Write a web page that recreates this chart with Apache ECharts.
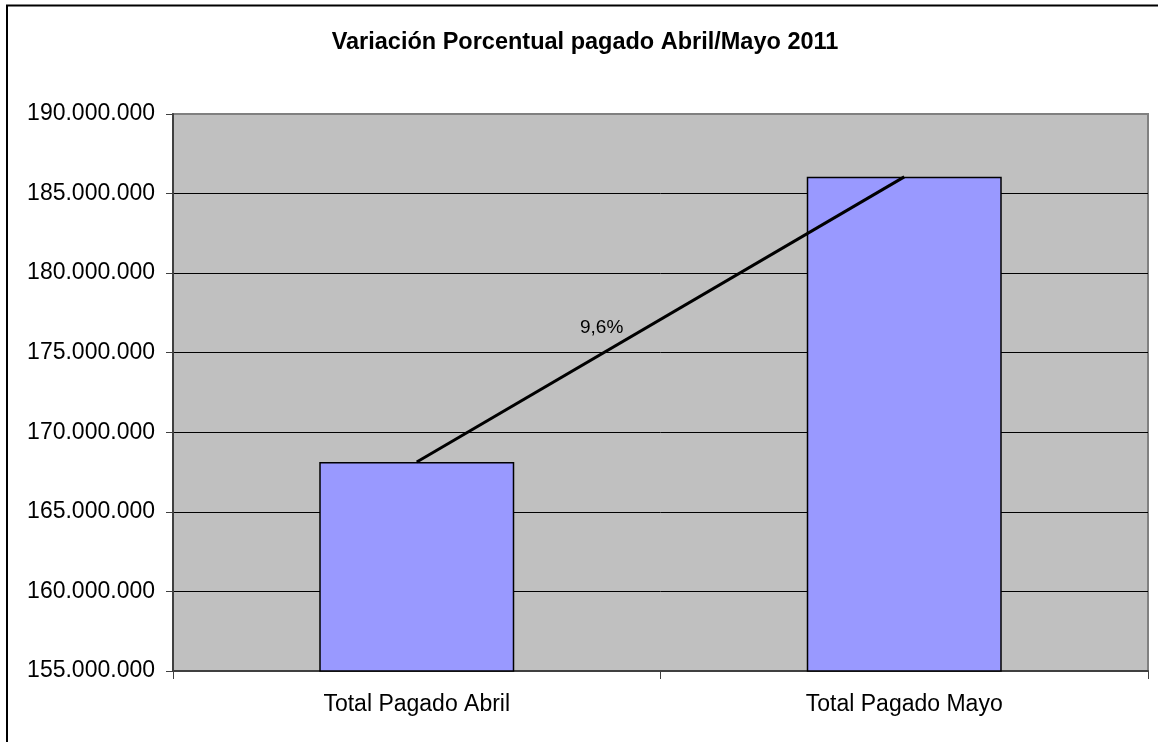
<!DOCTYPE html>
<html>
<head>
<meta charset="utf-8">
<title>Variación Porcentual pagado Abril/Mayo 2011</title>
<script src="https://cdn.jsdelivr.net/npm/echarts@6/dist/echarts.min.js"></script>
<style>
	html, body { margin: 0; padding: 0; background: #fff; }
	#chart { width: 1158px; height: 742px; }
</style>
</head>
<body>
<div id="chart"></div>
<script>
// datos del grafico
var categorias = ['Total Pagado Abril', 'Total Pagado Mayo'];
var pagado = [168130000, 186050000];
var ejeMin = 155000000;
var ejeMax = 190000000;
var ejeIntervalo = 5000000;

// variacion sobre mayo, como en la hoja original
var variacion = (pagado[1] - pagado[0]) / pagado[1] * 100;
var textoVariacion = variacion.toFixed(1).replace('.', ',') + '%';

function formatoMiles(v) {
	return String(v).replace(/\B(?=(\d{3})+(?!\d))/g, '.');
}

var myChart = echarts.init(document.getElementById('chart'));

// lineas de division: la de arriba coincide con el borde gris
var coloresSplit = [];
for (var v = ejeMin; v <= ejeMax; v += ejeIntervalo) {
	coloresSplit.push(v === ejeMax ? '#808080' : '#000000');
}

var option = {
	backgroundColor: '#ffffff',
	animation: false,
	textStyle: { fontFamily: '"Liberation Sans", Arial, sans-serif' },
	title: {
		text: 'Variación Porcentual pagado Abril/Mayo 2011',
		left: 580,
		textAlign: 'center',
		top: 26,
		textStyle: { fontSize: 23.5, fontWeight: 'bold', color: '#000' }
	},
	grid: {
		left: 173,
		top: 114,
		right: 10,
		bottom: 71,
		show: true,
		backgroundColor: '#c0c0c0',
		borderColor: '#808080',
		borderWidth: 2
	},
	xAxis: {
		type: 'category',
		data: categorias,
		axisLine: { lineStyle: { color: '#404040', width: 2 } },
		axisTick: { show: true, length: 8, lineStyle: { color: '#404040' } },
		axisLabel: { margin: 22, fontSize: 23, color: '#000' }
	},
	yAxis: {
		type: 'value',
		min: ejeMin,
		max: ejeMax,
		interval: ejeIntervalo,
		axisLine: { show: true, lineStyle: { color: '#404040', width: 2 } },
		axisTick: { show: true, length: 7, lineStyle: { color: '#404040' } },
		axisLabel: { margin: 18, fontSize: 23, color: '#000', formatter: formatoMiles },
		splitLine: { show: true, lineStyle: { color: coloresSplit, width: 1 } }
	},
	series: [{
		name: 'Pagado',
		type: 'bar',
		data: pagado,
		barWidth: '40%',
		itemStyle: { color: '#9999ff', borderColor: '#000', borderWidth: 1.5 },
		z: 2
	}, {
		name: 'Variacion',
		type: 'line',
		data: pagado,
		symbol: 'none',
		lineStyle: { color: '#000', width: 3 },
		z: 3
	}],
	graphic: [{
		// etiqueta de la variacion
		type: 'text',
		left: 580,
		top: 318,
		z: 10,
		style: { text: textoVariacion, fontSize: 19, fill: '#000', fontFamily: '"Liberation Sans", Arial, sans-serif' }
	}, {
		// marco exterior del grafico (se sale por derecha y abajo)
		type: 'rect',
		shape: { x: 7, y: 5.5, width: 1300, height: 900 },
		style: { fill: 'none', stroke: '#000', lineWidth: 2 },
		z: 10
	}]
};

myChart.setOption(option);
</script>
</body>
</html>
